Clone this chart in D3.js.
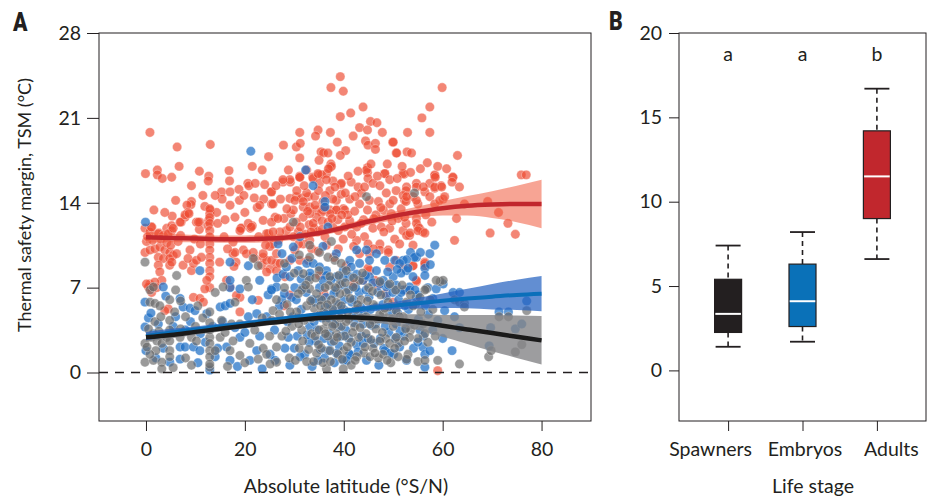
<!DOCTYPE html>
<html><head><meta charset="utf-8">
<script src="https://cdn.jsdelivr.net/npm/d3@7"></script>
<style>
html,body{margin:0;padding:0;background:#fff;}
svg{display:block;font-family:Lato,"Open Sans",sans-serif;}
</style></head>
<body><svg id="c" width="934" height="500"></svg>
<script>
// ---------------- DATA ----------------
const xTicksA = [0,20,40,60,80];
const yTicksA = [0,7,14,21,28];
const yTicksB = [0,5,10,15,20];

// Adults (red) points: [latitude, TSM]
const redPts = [
[39.3,24.4],[37.4,23.5],[39.9,23.2],[59.9,23.5],[43.9,21.9],[41.4,21.4],[39.3,21.1],[57.4,21.9],[55.8,21.0],[45.4,20.7],[46.7,20.6],[43.2,20.2],[44.8,20.0],[47.8,19.8],[34.8,20.0],[31.1,19.8],[37.3,19.8],[34.3,19.5],[52.9,19.8],[57.4,19.8],[41.9,19.5],[38.7,19.0],[44.4,19.1],[44.9,18.75],[46.4,18.9],[27.8,18.75],[30.4,18.6],[31.2,18.9],[49.9,19.0],[46.4,18.4],[40.4,18.3],[35.4,18.2],[35.9,18.1],[36.8,18.1],[39.3,17.9],[50.6,18.1],[52.8,18.2],[53.7,18.1],[63.0,17.9],[31.1,17.7],[35.0,17.5],[24.8,17.8],[23.5,16.7],[21.5,17.0],[56.9,17.3],[37.2,16.9],[37.4,17.2],[44.8,16.9],[44.8,16.5],[48.3,16.4],[52.2,16.35],[58.4,16.2],[62.0,16.1],[31.1,16.2],[35.0,16.3],
[0.8,19.8],[6.3,18.6],[13.0,18.8],[-0.1,16.4],[2.3,16.7],[2.3,16.3],[3.3,16.0],[5.2,16.1],[6.7,17.0],[10.8,16.6],[12.7,16.2],[12.6,15.8],[16.8,16.65],[16.9,15.8],[9.2,15.4],[15.3,14.9],[17.0,14.9],[18.8,15.1],[20.6,15.6],[20.8,15.4],[22.1,15.6],[15.4,14.3],[18.9,14.2],[17.0,13.8],[9.2,14.1],[9.1,13.85],[8.3,13.8],[11.9,13.7],[13.0,13.4],[12.9,13.1],[14.3,13.2],[1.6,13.4],[5.3,12.9],[7.9,12.8],[8.5,13.2],[7.1,12.4],[10.2,12.4],[10.9,12.4],[12.7,12.55],[12.5,12.1],[10.8,11.8],[19.3,11.9],[21.1,11.9],[1.2,12.0],[2.6,11.5],[4.2,11.9],[5.2,12.1],[5.2,11.7],
[25.3,14.9],[25.4,13.9],[27.7,15.7],[29.2,15.7],[31.1,16.1],[33.7,16.1],[35.5,16.3],[36.5,16.4],[37.8,15.8],[39.4,15.5],[29.1,14.35],[30.4,14.5],[31.4,14.4],[32.8,14.5],[31.8,13.65],[33.1,13.65],[34.5,13.4],[35.8,13.4],[37.2,13.4],[38.5,13.4],[39.9,13.5],[19.2,11.9],[21.5,12.1],[23.7,12.55],[24.8,11.45],[26.1,12.8],[27.9,12.7],[29.3,13.1],
[-0.2,11.9],[0.8,11.6],[1.1,12.0],[2.5,11.45],[3.5,11.3],[4.5,11.45],[5.5,11.9],[-0.2,9.9],[0.8,10.1],[1.8,10.2],[2.8,10.35],[3.8,10.1],[4.8,9.9],[5.5,9.65],[2.5,9.5],[3.5,9.4],[4.8,9.4],[2.5,8.85],[2.8,8.3],[3.2,7.6],[0.8,7.3],[1.8,7.45],[4.8,8.85],[5.2,9.1],[0.1,10.8],[1.3,10.9],[3.0,11.0],[4.2,10.7],[0.3,11.2],[5.0,10.5],
[12.9,13.5],[12.9,12.8],[12.9,12.3],[12.9,11.7],[12.9,11.2],[12.9,10.6],[12.9,10.1],[12.9,9.5],[12.9,9.0],[12.9,8.4],[12.9,7.9],[12.9,7.0],
[9.2,8.4],[9.6,9.0],[8.9,10.1],[7.5,8.85],[8.5,9.4],[10.2,9.25],[11.2,9.5],[6.9,12.4],[7.9,13.0],[8.7,13.1],[10.6,12.4],[14.9,9.1],[17.6,9.8],[18.2,9.1],[17.8,8.75],[17.6,10.75],[19.0,11.7],[20.7,12.3],[21.3,12.0],[19.7,10.1],[22.0,9.4],[23.7,9.5],[23.4,8.85],[24.4,9.25],[25.1,8.55],[26.4,9.0],[25.7,10.6],[24.4,11.45],[25.4,12.4],[19.0,6.2],[18.3,6.35],[17.0,7.05],[16.3,7.6],[4.5,5.25],[3.8,5.1],[0.5,7.05],[9.6,6.2],[10.9,6.1],[19.0,5.0],[0.1,7.3],[1.15,6.6],[2.15,7.0],[11.6,5.8],[11.9,6.9],[12.3,7.6],[18.0,9.9],[22.7,5.95],[24.4,8.3],[25.4,9.25],[26.4,8.4],[23.7,9.8],[20.3,9.8],[21.7,9.9],
[6.5,10.8],[7.0,11.3],[6.2,9.8],[9.8,11.0],[11.0,10.6],[15.8,11.2],[16.5,10.2],[14.5,12.3],[16.0,12.6],[18.0,12.8],[20.0,13.2],[22.5,13.6],[23.8,14.3],[11.5,14.6],[6.0,14.2],[3.8,13.2],[14.0,14.6],
[31.1,16.1],[32.5,16.7],[33.8,16.0],[34.8,16.4],[35.1,15.6],[36.5,15.9],[37.5,17.0],[37.2,15.0],[32.5,14.8],[34.1,14.5],[30.1,14.2],[29.1,15.9],[27.7,15.9],[25.4,14.9],[25.7,13.9],[26.7,12.7],[28.4,11.7],[29.8,13.4],[31.8,14.1],[35.8,14.1],[38.5,14.2],[39.5,15.6],[41.5,15.7],[41.2,14.3],[42.9,15.3],[43.6,14.8],[44.6,16.7],[44.9,16.0],[45.9,15.6],[47.3,15.4],[48.3,16.4],[49.3,15.9],[48.6,14.8],[49.3,13.9],[50.6,15.0],[52.0,16.4],[52.7,15.3],[52.3,14.2],[54.0,14.5],[54.7,15.6],[48.0,13.4],[49.6,13.1],[51.0,12.7],[52.0,11.7],[53.3,11.3],[54.7,12.7],[55.0,12.0],[45.2,14.2],[43.2,13.9],[40.2,13.4],[38.5,13.4],[37.2,13.1],[35.5,13.2],[34.5,12.8],[33.1,13.1],[31.8,12.8],[30.4,12.4],[29.1,12.0],[27.1,11.6],[25.7,11.6],[25.05,10.4],[26.4,9.8],[27.1,9.0],[28.1,7.9],[29.1,9.25],[30.1,10.1],[31.8,10.6],[33.1,10.9],[34.8,11.6],[36.2,11.2],[37.8,12.0],[40.2,12.0],[41.2,12.5],[42.6,12.0],[44.2,11.2],[45.9,11.9],[47.6,12.0],[49.3,11.9],[50.3,11.0],[51.3,10.6],[52.7,11.3],[47.3,10.6],[44.9,10.6],[42.6,10.9],[39.9,11.0],[45.2,9.8],[47.3,10.1],[49.0,10.1],[50.6,9.25],[52.0,8.7],[54.0,8.8],[45.2,8.4],[43.9,7.6],
[33.0,12.2],[34.0,11.9],[35.6,12.5],[36.8,12.4],[38.8,12.6],[30.8,11.6],[32.2,11.4],[33.8,12.3],[36.0,13.6],[37.8,14.3],[39.5,14.7],[40.8,13.0],[42.2,13.3],[44.0,12.6],[46.5,13.0],[47.0,14.1],[50.0,14.2],[51.6,13.5],
[31.1,9.25],[32.8,9.25],[35.1,8.0],[29.1,6.4],[38.0,9.5],[40.5,8.8],[36.5,10.5],[33.5,10.2],[42.0,7.3],[47.0,7.2],[50.0,5.8],[48.5,6.5],[28.0,5.5],[36.0,6.5],[49.0,9.9],[49.3,8.7],[56.4,9.1],[56.4,8.8],[54.7,7.5],[44.9,8.6],[43.2,9.8],[46.3,7.6],
[58.4,16.3],[62.1,16.1],[61.9,15.7],[63.4,15.3],[59.7,15.4],[58.4,15.2],[57.4,15.6],[56.4,14.9],[54.7,15.3],[52.6,15.0],[52.0,14.6],[52.6,14.1],[55.0,13.9],[57.4,14.5],[58.4,13.9],[60.1,14.3],[64.4,13.9],[69.1,14.1],[71.3,13.2],[75.9,16.3],[76.9,16.3],[73.2,12.3],[74.7,11.4],[69.6,11.5],[62.4,10.9],[62.8,12.7],[54.7,12.3],[55.3,11.9],[56.0,11.6],[52.6,12.3],[52.3,12.8],[54.0,10.5],[54.0,8.8],[56.4,9.0],[54.7,7.6],[52.6,6.8],[59.0,0.15],
[50.7,18.1],[50.0,19.0],[58.5,16.1],[52.7,14.5],[54.7,14.2],[56.1,15.3],[58.4,15.3],[59.8,15.3],[59.4,14.2],[60.4,14.5],[53.4,11.5],[55.0,11.7],[56.4,11.5],
[28.5,13.5],[29.8,11.2],[30.5,15.0],[31.2,12.0],[32.0,15.4],[32.7,13.3],[33.4,11.6],[34.2,13.8],[34.9,15.0],[35.6,11.8],[36.3,14.6],[36.9,16.8],[37.6,12.7],[38.2,15.3],[38.9,11.7],[39.6,13.0],[40.3,14.8],[40.9,16.2],[41.6,11.4],[42.3,14.5],[42.9,16.6],[43.5,12.3],[44.2,15.3],[44.8,13.4],[45.5,17.2],[46.1,12.7],[46.8,16.2],[47.5,13.6],[48.1,11.6],[48.8,17.2],[49.8,12.5],[50.8,16.0],[51.8,17.0],[53.5,16.5],[55.5,16.8],[56.6,13.0],[57.8,12.4],[59.0,17.0],[60.8,16.8],[26.3,15.4],[27.2,14.3],[28.8,16.7],[24.0,15.5],[23.0,13.8],[21.9,14.4],[19.8,14.6],[26.8,10.9],[30.9,10.6],[34.8,10.0],[38.9,10.2],[42.0,10.4],[46.0,10.2],[24.2,10.5],[22.8,11.2]
];

// Embryos (blue) points
const bluePts = [
[-0.1,12.4],[21.2,18.25],[32.3,16.7],[33.8,15.4],[36.2,14.1],[36.2,13.65],[36.8,12.0],[26.7,10.6],[29.8,10.35],[31.1,11.2],
[10.9,8.4],[17.0,9.1],[17.0,7.0],[17.0,7.6],[20.7,8.8],[19.0,6.9],[25.4,6.9],[24.7,6.4],[-0.2,5.8],[3.5,7.05],[6.9,6.1],[7.5,5.4],[8.9,5.3],[9.9,5.1],[12.3,4.85],[15.0,5.4],[16.0,5.5],[17.0,5.7],[20.7,4.6],[22.4,4.85],[24.4,4.6],[-0.2,3.75],[4.8,0.85],[6.9,1.1],[6.9,2.1],[7.9,2.1],[9.6,2.1],[10.9,1.8],[16.3,2.1],[19.0,2.9],[22.4,1.8],[25.1,1.5],[17.0,1.0],[21.0,1.0],[0.5,4.5],[1.5,3.2],[2.5,4.0],[3.5,2.0],[0.0,1.8],[5.5,3.8],[6.0,4.6],[8.0,3.5],[11.0,3.2],[12.0,2.5],[13.5,3.8],[14.5,2.0],[18.0,3.7],[20.0,3.3],[23.0,3.0],[26.0,3.5],[27.5,6.0],[14.0,1.3],[12.9,0.2],[18.5,0.5],[23.5,0.3],[4.0,6.3],[1.0,4.9],[2.0,1.2],[9.0,4.2],[10.5,0.8],[15.5,4.2],[21.5,6.0],[23.0,7.6],[26.5,7.8],
[35.8,10.4],[38.5,9.8],[42.6,10.1],[44.6,10.1],[46.6,9.8],[45.2,9.25],[41.2,9.25],[43.2,9.0],[41.5,8.7],[48.3,9.25],[50.3,9.25],[52.0,9.25],[52.7,8.4],[54.7,9.5],[54.0,7.9],[50.0,7.9],[48.6,7.05],[50.6,7.2],[52.0,6.8],[53.3,7.05],[54.7,6.2],[26.4,7.05],[25.4,6.8],[27.7,8.1],[29.1,7.9],[28.4,8.7],[30.8,8.4],[32.5,9.0],[33.8,9.0],[35.1,8.7],[36.5,8.4],[33.1,7.9],[31.4,7.7],[38.5,7.9],[39.9,8.4],[41.2,7.9],[42.6,8.1],[43.9,7.6],[45.2,7.9],[46.6,8.4],[47.3,7.3],
[27.0,5.5],[28.6,4.2],[29.4,6.2],[30.6,3.0],[31.4,5.2],[32.1,1.5],[32.4,6.6],[33.1,3.8],[33.6,0.5],[34.1,5.8],[34.4,2.6],[35.1,7.0],[35.6,4.5],[36.1,1.2],[36.4,6.2],[37.1,3.2],[37.6,5.3],[38.1,0.8],[38.4,6.8],[39.1,2.2],[39.6,4.8],[40.1,6.0],[40.4,3.5],[41.1,1.5],[41.6,5.8],[42.1,4.1],[42.6,2.3],[43.1,6.6],[43.6,3.0],[44.1,5.1],[44.6,1.0],[45.1,6.2],[45.6,3.9],[46.1,2.4],[46.6,5.4],[47.1,0.6],[47.6,4.4],[48.1,2.0],[48.6,6.3],[49.1,3.3],[49.6,5.0],[50.1,1.5],[50.6,4.0],[51.1,6.0],[52.1,3.0],[53.1,5.2],[54.1,2.0],[55.1,4.4],[56.1,3.0],[57.1,4.8],[28.1,2.0],[29.1,0.6],[30.1,7.0],[26.1,1.0],
[34.0,4.2],[35.0,6.0],[36.0,2.8],[37.0,4.5],[38.0,6.5],[39.0,3.8],[40.0,5.2],[41.0,2.8],[33.0,2.5],[42.0,6.0],[31.0,4.5],[43.0,4.8],[36.5,8.0],[39.5,7.2],[44.5,6.8],[30.0,2.0],[37.5,2.5],[34.8,1.0],
[58.4,10.5],[57.4,9.8],[53.5,9.9],[54.3,9.5],[52.7,9.3],[51.3,9.0],[56.4,8.6],[56.4,8.0],[51.6,8.2],[48.0,7.6],[49.0,7.2],[51.6,6.6],[53.3,6.8],[55.0,6.4],[57.0,7.0],[60.4,5.1],[62.1,6.6],[63.4,6.6],[61.9,1.8],[69.7,3.7],[71.4,5.0],[73.3,5.0],[74.7,3.6],[76.0,4.0],[77.0,5.9],[69.4,2.2],[58.7,6.9],[60.1,7.3],[58.0,6.1],[62.4,4.6],[63.4,3.7],[56.0,2.1],[56.4,1.5],[55.0,2.5],[52.6,3.7],[57.4,1.8],[56.4,0.44],[52.7,1.0],[51.3,2.1],[48.3,1.8],[43.9,2.4],[41.2,1.5],[39.9,1.0],[56.5,5.5],[58.0,3.5],[59.0,4.3],[60.0,2.8],[57.5,8.9],[55.5,9.9],
[28.0,6.5],[28.8,2.9],[29.7,4.6],[30.4,6.0],[31.2,1.3],[31.8,7.0],[32.6,3.1],[33.2,8.2],[33.7,6.0],[34.6,3.5],[35.3,1.9],[35.8,7.6],[36.3,5.4],[36.9,1.8],[37.4,7.6],[37.9,4.0],[38.5,1.6],[38.9,5.6],[39.4,3.0],[39.9,7.8],[40.6,1.0],[41.0,6.8],[41.7,4.6],[42.4,7.0],[42.9,1.7],[43.4,5.4],[43.9,4.0],[44.4,8.0],[44.9,2.8],[45.4,5.2],[45.9,7.4],[46.4,4.0],[46.9,6.6],[47.4,2.8],[47.9,5.6],[48.4,3.8],[48.9,8.3],[49.4,1.6],[49.9,6.6],[50.4,2.8],[50.9,4.9],[51.4,3.4],[52.4,5.5],[53.4,4.0],[54.4,6.8],[55.4,3.5],[53.0,8.6],[50.8,8.5],[29.5,9.4],[27.5,9.8]
];

// Spawners (grey) points
const grayPts = [
[-0.2,9.1],[6.2,8.0],[15.6,7.05],[14.0,6.6],[21.7,9.4],[22.7,8.8],[20.3,7.6],[20.7,7.05],[0.8,5.8],[1.8,5.7],[2.8,5.5],[0.8,6.8],[1.5,7.05],[18.0,5.8],[15.3,4.3],[17.3,4.0],[19.0,4.0],[25.7,5.1],[26.4,6.0],[25.4,4.3],[-0.2,2.4],[-0.2,0.85],[1.5,1.0],[3.2,0.85],[3.2,0.3],[9.2,0.6],[12.9,0.45],[6.9,2.9],[1.1,2.9],[2.2,2.6],[3.2,2.4],[4.2,2.9],[4.8,4.3],[4.8,3.5],[4.8,2.6],[4.8,1.8],[4.8,1.3],[12.9,2.9],[12.9,2.4],[12.9,1.8],[12.9,1.3],[12.9,0.7],[9.2,2.9],[10.2,2.6],[15.0,2.9],[17.6,2.6],[21.0,2.4],[23.7,2.0],[26.4,2.1],[26.4,0.85],[19.0,1.4],[22.7,1.1],[24.4,1.5],[25.1,0.7],[0.5,3.6],[1.8,4.2],[3.0,4.6],[2.0,1.8],[0.8,1.5],[5.8,5.0],[7.0,3.6],[8.0,1.2],[10.0,3.8],[11.5,4.5],[12.9,3.5],[12.9,4.1],[12.9,5.0],[14.0,1.8],[16.0,3.3],[17.0,1.8],[20.0,0.8],[22.0,3.5],[23.5,4.5],[25.0,3.0],[27.0,4.8],[4.8,6.0],[6.0,6.8],[7.0,5.9],[10.5,5.5],[2.6,3.4],[0.2,2.1],[5.5,0.4],[8.0,4.6],[16.5,0.5],[28.0,9.0],
[29.8,12.4],[33.1,10.5],[31.0,9.7],[37.5,10.8],[44.6,14.5],[54.3,14.8],[33.1,6.9],
[35.1,9.9],[36.8,9.5],[38.2,9.25],[39.5,9.0],[40.5,8.4],[33.1,9.5],[31.8,8.15],[41.9,7.05],[43.2,7.6],[39.2,7.3],[37.2,7.9],
[27.5,3.0],[28.0,7.0],[28.5,5.6],[29.0,1.2],[29.5,3.8],[30.0,8.2],[30.5,5.0],[31.0,2.0],[31.5,6.8],[32.0,4.3],[32.5,0.9],[33.0,7.6],[33.5,3.2],[34.0,5.3],[34.5,1.6],[35.0,8.4],[35.5,6.0],[36.0,3.6],[36.5,0.3],[37.0,7.2],[37.5,4.8],[38.0,2.6],[38.5,5.8],[39.0,8.0],[39.5,3.8],[40.0,1.8],[40.5,6.6],[41.0,4.4],[41.5,0.6],[42.0,7.8],[42.5,5.2],[43.0,2.9],[43.5,6.0],[44.0,1.6],[44.5,4.6],[45.0,7.0],[45.5,2.7],[46.0,5.6],[46.5,3.6],[47.0,1.2],[47.5,6.4],[48.0,4.8],[48.5,2.8],[49.0,5.8],[49.5,0.8],[50.0,3.8],[50.5,6.8],[51.0,2.4],[52.0,4.6],[53.0,1.5],[53.5,3.5],[54.5,5.6],[55.0,0.9],[56.0,4.0],[57.0,2.5],[58.0,5.2],[59.0,1.0],[59.5,7.5],
[33.5,4.5],[34.5,6.5],[35.5,2.0],[36.0,5.0],[36.8,3.0],[37.5,6.0],[38.2,4.0],[38.8,1.5],[39.5,5.5],[40.2,3.0],[40.8,5.0],[41.5,2.5],[42.2,3.8],[34.2,3.0],[35.2,4.8],[36.2,7.0],[37.2,1.8],[38.5,3.2],[39.2,6.5],[40.5,4.2],[32.5,5.5],[31.5,3.5],[30.8,6.5],[43.5,4.5],[44.5,3.2],[37.8,5.2],[36.5,4.2],[35.0,3.5],
[63.4,0.7],[69.3,1.3],[69.8,1.8],[74.7,1.7],[76.0,2.3],[77.0,5.1],[71.4,4.6],[73.3,4.6],[62.4,6.0],[63.4,5.8],[64.4,5.7],[64.4,5.4],[60.1,7.6],[58.7,7.6],[56.7,6.9],[56.4,6.8],[55.4,6.2],[54.0,5.5],[52.7,5.8],[50.6,5.1],[49.0,5.4],[47.3,4.8],[45.9,4.3],[56.4,3.2],[55.0,2.8],[53.3,2.9],[52.3,2.6],[50.6,2.9],[49.3,2.4],[47.3,2.6],[45.9,2.0],[56.4,1.0],[52.7,1.1],[51.0,1.3],[47.9,1.5],[45.3,1.3],[42.6,1.3],[39.9,0.3],
[28.3,3.4],[29.2,5.0],[30.2,1.0],[30.9,4.0],[31.7,2.6],[32.3,7.2],[32.9,1.9],[33.3,5.9],[33.9,0.9],[34.3,7.8],[34.9,2.3],[35.3,5.5],[35.8,0.8],[36.3,3.2],[36.7,5.6],[37.3,0.9],[37.7,3.8],[38.3,7.0],[38.7,2.9],[39.3,4.5],[39.7,1.1],[40.3,7.4],[40.7,2.1],[41.3,6.1],[41.8,3.3],[42.3,1.0],[42.8,5.6],[43.3,3.7],[43.8,8.2],[44.3,2.1],[44.8,5.9],[45.3,4.0],[45.8,6.7],[46.3,1.6],[46.8,4.4],[47.3,7.5],[47.8,3.3],[48.3,5.3],[48.8,1.0],[49.3,7.3],[49.8,4.4],[50.3,2.0],[51.3,4.6],[51.8,7.2],[52.5,3.6],[53.5,6.4],[54.3,3.9],[55.6,5.0],[57.5,6.0],[58.5,3.0]
];

// Smoothed fits with confidence half-widths
const fitLat   = [0,5,10,15,20,25,30,35,40,45,50,55,60,65,70,75,80];
const redFit   = [11.15,11.1,11.05,11.0,11.0,11.05,11.2,11.5,11.95,12.45,12.9,13.25,13.55,13.75,13.85,13.9,13.9];
const redHW    = [0.45,0.35,0.3,0.3,0.3,0.3,0.25,0.25,0.25,0.3,0.35,0.45,0.6,0.8,1.1,1.5,2.0];
const blueFit  = [3.0,3.3,3.55,3.8,4.05,4.3,4.55,4.8,5.05,5.3,5.5,5.72,5.92,6.1,6.25,6.4,6.5];
const blueHW   = [0.35,0.3,0.25,0.22,0.2,0.2,0.2,0.2,0.2,0.25,0.3,0.45,0.6,0.8,1.05,1.25,1.45];
const blackFit = [2.9,3.1,3.35,3.6,3.85,4.1,4.3,4.5,4.55,4.5,4.35,4.15,3.85,3.55,3.25,2.95,2.65];
const blackHW  = [0.35,0.3,0.25,0.22,0.2,0.2,0.2,0.2,0.2,0.3,0.45,0.65,0.9,1.2,1.5,1.75,2.0];

// Panel B box plot
const stages   = ["Spawners","Embryos","Adults"];
const boxLow   = [1.4,1.7,6.6];
const boxQ1    = [2.25,2.6,9.0];
const boxMed   = [3.35,4.1,11.5];
const boxQ3    = [5.4,6.3,14.2];
const boxHigh  = [7.4,8.2,16.7];
const letters  = ["a","a","b"];
const boxColors= ["#231f20","#0a71b8","#c1272d"];
const labelShift = [-18,2,14];   // horizontal nudges of the category labels (as in the original)

// ---------------- DRAW ----------------
const svg = d3.select("#c");
const ink = "#231f20";
const FS = 19.5;

// Panel A
const A = {l:99, r:591, t:33, b:421};
const xA = d3.scaleLinear().domain([-9.5,90]).range([A.l,A.r]);
const yA = d3.scaleLinear().domain([-4,28]).range([A.b,A.t]);

const gA = svg.append("g");
gA.append("rect").attr("x",A.l).attr("y",A.t).attr("width",A.r-A.l).attr("height",A.b-A.t)
  .attr("fill","none").attr("stroke",ink).attr("stroke-width",1);

function drawPts(pts, fill, op){
  gA.append("g").selectAll("circle").data(pts).join("circle")
    .attr("cx",d=>xA(d[0])).attr("cy",d=>yA(d[1])).attr("r",4.7)
    .attr("fill",fill).attr("fill-opacity",op)
    .attr("stroke","#fff").attr("stroke-opacity",0.45).attr("stroke-width",0.7);
}
drawPts(redPts,"#ee4d33",0.68);
drawPts(bluePts,"#1f6fc5",0.72);
drawPts(grayPts,"#6a6a6a",0.68);

// zero dashed line
gA.append("line").attr("x1",A.l).attr("x2",A.r).attr("y1",yA(0)).attr("y2",yA(0))
  .attr("stroke",ink).attr("stroke-width",1.3).attr("stroke-dasharray","9,7");

function band(fit, hw, fill, op){
  const data = fitLat.map((x,i)=>({x, lo:fit[i]-hw[i], hi:fit[i]+hw[i]}));
  gA.append("path").datum(data)
    .attr("d", d3.area().x(d=>xA(d.x)).y0(d=>yA(d.lo)).y1(d=>yA(d.hi)).curve(d3.curveMonotoneX))
    .attr("fill",fill).attr("fill-opacity",op);
}
function fitLine(fit, color, w){
  const data = fitLat.map((x,i)=>({x, y:fit[i]}));
  gA.append("path").datum(data)
    .attr("d", d3.line().x(d=>xA(d.x)).y(d=>yA(d.y)).curve(d3.curveMonotoneX))
    .attr("fill","none").attr("stroke",color).attr("stroke-width",w).attr("stroke-linecap","butt");
}
band(redFit, redHW, "#f05a3c", 0.55);
band(blackFit, blackHW, "#858587", 0.8);
band(blueFit, blueHW, "#2563c0", 0.72);
fitLine(redFit, "#c1272d", 4.5);
fitLine(blueFit, "#0b6fba", 4);
fitLine(blackFit, "#1a1a1a", 4.5);

// axes A
const axYA = gA.append("g").attr("transform",`translate(${A.l},0)`)
  .call(d3.axisLeft(yA).tickValues(yTicksA).tickSize(12).tickPadding(6));
const axXA = gA.append("g").attr("transform",`translate(0,${A.b})`)
  .call(d3.axisBottom(xA).tickValues(xTicksA).tickSize(10).tickPadding(11));
[axYA, axXA].forEach(ax=>{
  ax.select(".domain").remove();
  ax.selectAll("line").attr("stroke",ink).attr("stroke-width",1);
  ax.selectAll("text").attr("font-size",FS).attr("fill",ink).attr("font-family","Lato");
});
svg.append("text").attr("x",346).attr("y",493).attr("text-anchor","middle")
  .attr("font-size",FS).attr("fill",ink).text("Absolute latitude (°S/N)");
svg.append("text").attr("transform","translate(31,205) rotate(-90)").attr("text-anchor","middle")
  .attr("font-size",18).attr("fill",ink).text("Thermal safety margin, TSM (°C)");
svg.append("text").attr("x",13).attr("y",31).attr("font-size",25).attr("font-weight",900)
  .attr("font-family","Roboto, Lato, sans-serif").attr("fill",ink).attr("transform","translate(13,31) scale(0.85,1) translate(-13,-31)").text("A");

// Panel B
const B = {l:679, r:926, t:33, b:421};
const xB = d3.scalePoint().domain(stages).range([B.l,B.r]).padding(0.66);
const yB = d3.scaleLinear().domain([-3,20]).range([B.b,B.t]);
const gB = svg.append("g");
gB.append("rect").attr("x",B.l).attr("y",B.t).attr("width",B.r-B.l).attr("height",B.b-B.t)
  .attr("fill","none").attr("stroke",ink).attr("stroke-width",1);

const bw = 27, cw = 25;
stages.forEach((s,i)=>{
  const cx = xB(s);
  const g = gB.append("g");
  g.append("line").attr("x1",cx).attr("x2",cx).attr("y1",yB(boxHigh[i])).attr("y2",yB(boxQ3[i]))
    .attr("stroke",ink).attr("stroke-width",1.6).attr("stroke-dasharray","5,4");
  g.append("line").attr("x1",cx).attr("x2",cx).attr("y1",yB(boxQ1[i])).attr("y2",yB(boxLow[i]))
    .attr("stroke",ink).attr("stroke-width",1.6).attr("stroke-dasharray","5,4");
  [boxHigh[i], boxLow[i]].forEach(v=>{
    g.append("line").attr("x1",cx-cw/2).attr("x2",cx+cw/2).attr("y1",yB(v)).attr("y2",yB(v))
      .attr("stroke",ink).attr("stroke-width",1.8);
  });
  g.append("rect").attr("x",cx-bw/2).attr("y",yB(boxQ3[i])).attr("width",bw)
    .attr("height",yB(boxQ1[i])-yB(boxQ3[i])).attr("fill",boxColors[i])
    .attr("stroke",ink).attr("stroke-width",1.2);
  g.append("line").attr("x1",cx-bw/2+0.7).attr("x2",cx+bw/2-0.7).attr("y1",yB(boxMed[i])).attr("y2",yB(boxMed[i]))
    .attr("stroke","#fff").attr("stroke-width",2);
  gB.append("text").attr("x",cx).attr("y",61).attr("text-anchor","middle")
    .attr("font-size",FS).attr("fill",ink).text(letters[i]);
});

const axYB = gB.append("g").attr("transform",`translate(${B.l},0)`)
  .call(d3.axisLeft(yB).tickValues(yTicksB).tickSize(10).tickPadding(7));
const axXB = gB.append("g").attr("transform",`translate(0,${B.b})`)
  .call(d3.axisBottom(xB).tickSize(10).tickPadding(11));
[axYB, axXB].forEach(ax=>{
  ax.select(".domain").remove();
  ax.selectAll("line").attr("stroke",ink).attr("stroke-width",1);
  ax.selectAll("text").attr("font-size",FS).attr("fill",ink).attr("font-family","Lato");
});
axXB.selectAll(".tick text").attr("dx",(d,i)=>labelShift[i]);
svg.append("text").attr("x",813).attr("y",493).attr("text-anchor","middle")
  .attr("font-size",FS).attr("fill",ink).text("Life stage");
svg.append("text").attr("x",609).attr("y",30).attr("font-size",25).attr("font-weight",900)
  .attr("font-family","Roboto, Lato, sans-serif").attr("fill",ink).attr("transform","translate(609,30) scale(0.85,1) translate(-609,-30)").text("B");
</script></body></html>
